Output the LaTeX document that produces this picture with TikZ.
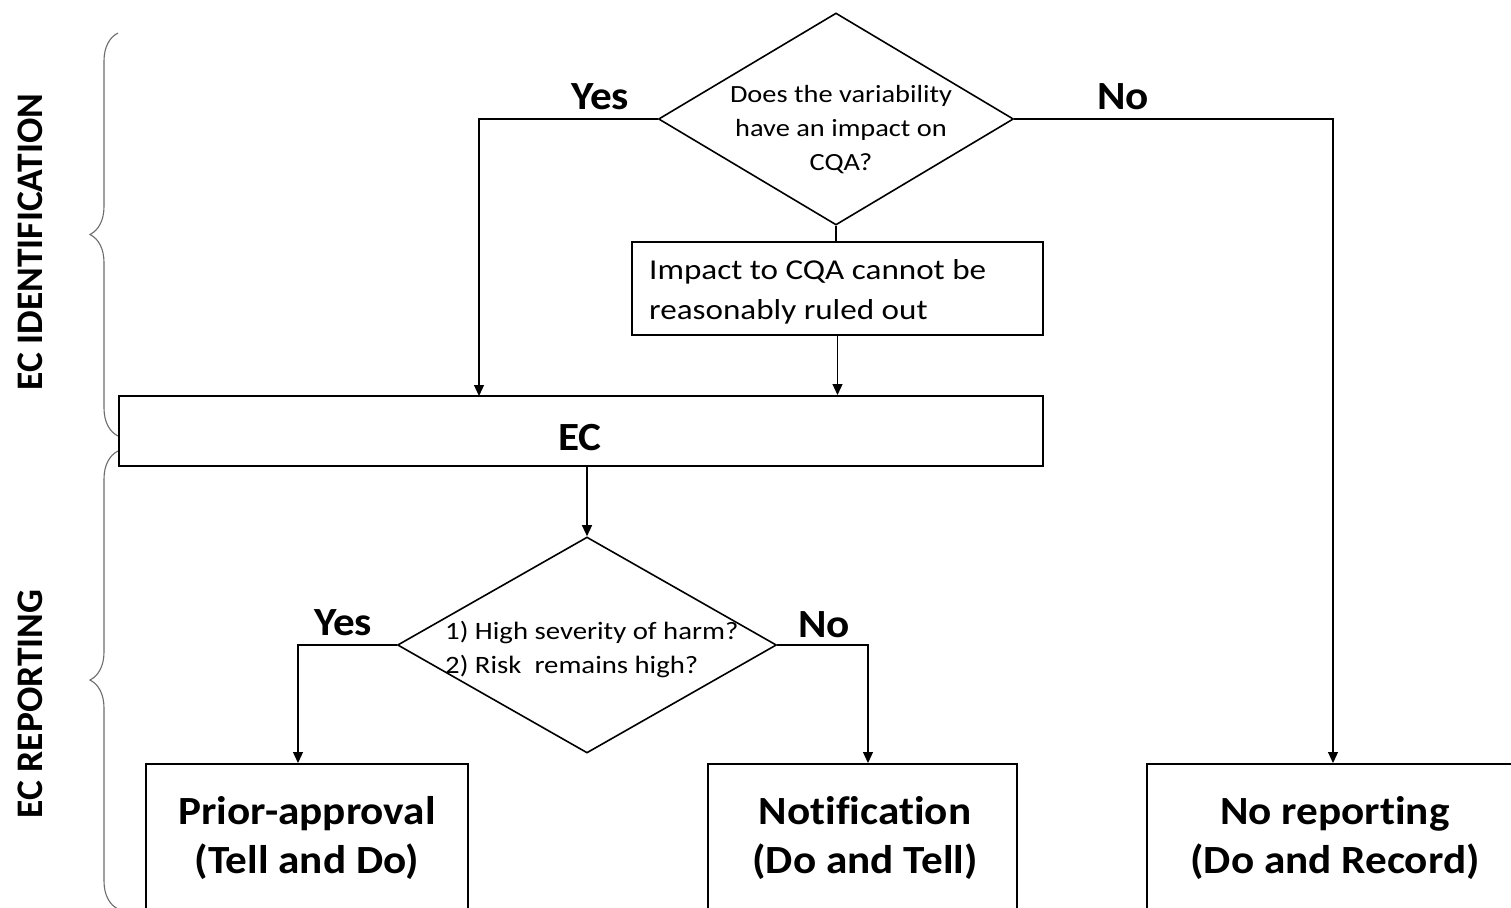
\documentclass[tikz,border=0pt]{standalone}
\usepackage{fontspec}
\setmainfont[Ligatures=NoCommon]{Carlito}
\newfontfamily\regwide[FakeStretch=1.15, Ligatures=NoCommon]{Carlito}
\newfontfamily\boldwide[FakeStretch=1.08, Ligatures=NoCommon]{Carlito}
\usetikzlibrary{shapes.geometric,arrows.meta,decorations.pathreplacing}

\colorlet{edge}{black}
\colorlet{brc}{gray!85!black}

\tikzset{
  decision/.style={diamond, draw=edge, line width=1.6pt, inner sep=0pt},
  plainbox/.style={rectangle, draw=edge, line width=1.2pt, inner sep=0pt},
  heavybox/.style={rectangle, draw=edge, line width=2pt, inner sep=0pt},
  qtext/.style={align=center, inner sep=0pt, font=\regwide\fontsize{24.7}{34}\selectfont},
  answer/.style={inner sep=0pt, font=\boldwide\bfseries\fontsize{40}{48}\selectfont},
  endtext/.style={align=center, inner sep=0pt, font=\boldwide\bfseries\fontsize{40}{49}\selectfont},
  side/.style={rotate=90, inner sep=0pt, font=\bfseries\fontsize{37.5}{40}\selectfont},
  conn/.style={draw=edge, line width=1.2pt},
  arr/.style={conn, -{Triangle[length=11pt,width=10pt]}},
  bracket/.style={draw=brc, line width=1.1pt, decorate, decoration={brace, amplitude=28pt}},
}

\begin{document}
\begin{tikzpicture}[x=1pt, y=-1pt]
  \useasboundingbox (0,0) rectangle (1511,907);
  \clip (0,0) rectangle (1511,907);
  % stages
  \draw (30,242) node[side] (ident) {EC IDENTIFICATION};
  \draw (30,704) node[side] (report) {EC REPORTING};
  \draw[bracket] (118,436) -- (118,33);
  \draw[bracket] (118,909) -- (118,451);
  % identification
  \draw (836,119) node[decision, minimum width=355pt, minimum height=212pt] (q1) {};
  \draw (841,130) node[qtext] (q1t) {Does the variability\\have an impact on\\CQA?};
  \draw (837.5,288.5) node[plainbox, minimum width=411pt, minimum height=93pt] (ruled) {};
  \draw (649,292) node[qtext, anchor=west, align=left, font=\regwide\fontsize{28.8}{40}\selectfont] (ruledt)
    {Impact to CQA cannot be\\reasonably ruled out};
  \draw (581,431) node[heavybox, minimum width=924pt, minimum height=70pt] (ec) {};
  \draw (580,438) node[answer] (ect) {EC};
  \draw (600,97)  node[answer] (yes1) {Yes};
  \draw (1123,97) node[answer] (no1) {No};
  % reporting
  \draw (587,645) node[decision, minimum width=379pt, minimum height=216pt] (q2) {};
  \draw (445,649) node[qtext, anchor=west, align=left, font=\regwide\fontsize{25}{34}\selectfont] (q2t)
    {1) High severity of harm?\\2) Risk\ \ remains high?};
  \draw (343,623) node[answer] (yes2) {Yes};
  \draw (824,625) node[answer] (no2) {No};
  \draw (307,763)  node[heavybox, anchor=north, minimum width=322pt, minimum height=200pt] (prior) {};
  \draw (862.5,763) node[heavybox, anchor=north, minimum width=309pt, minimum height=200pt] (notif) {};
  \draw (1335,763) node[heavybox, anchor=north, minimum width=376pt, minimum height=200pt] (norep) {};
  \draw (307,838)  node[endtext] (priort) {Prior-approval\\(Tell and Do)};
  \draw (865,838)  node[endtext] (notift) {Notification\\(Do and Tell)};
  \draw (1335,838) node[endtext] (norept) {No reporting\\(Do and Record)};
  % arrow ends
  \coordinate (yes1end) at (479,396);
  \coordinate (no1end) at (1333,763);
  \coordinate (yes2end) at (298,763);
  \coordinate (no2end) at (868,763);
  % connectors
  \draw[arr] (q1.west) -| (yes1end);
  \draw[arr] (q1.east) -| (no1end);
  \draw[conn] (q1.south) -- (q1.south |- ruled.north);
  \draw[arr] (ruled.south) -- (ruled.south |- ec.north);
  \draw[arr] (ec.south -| q2.north) -- (q2.north);
  \draw[arr] (q2.west) -| (yes2end);
  \draw[arr] (q2.east) -| (no2end);
\end{tikzpicture}
\end{document}
